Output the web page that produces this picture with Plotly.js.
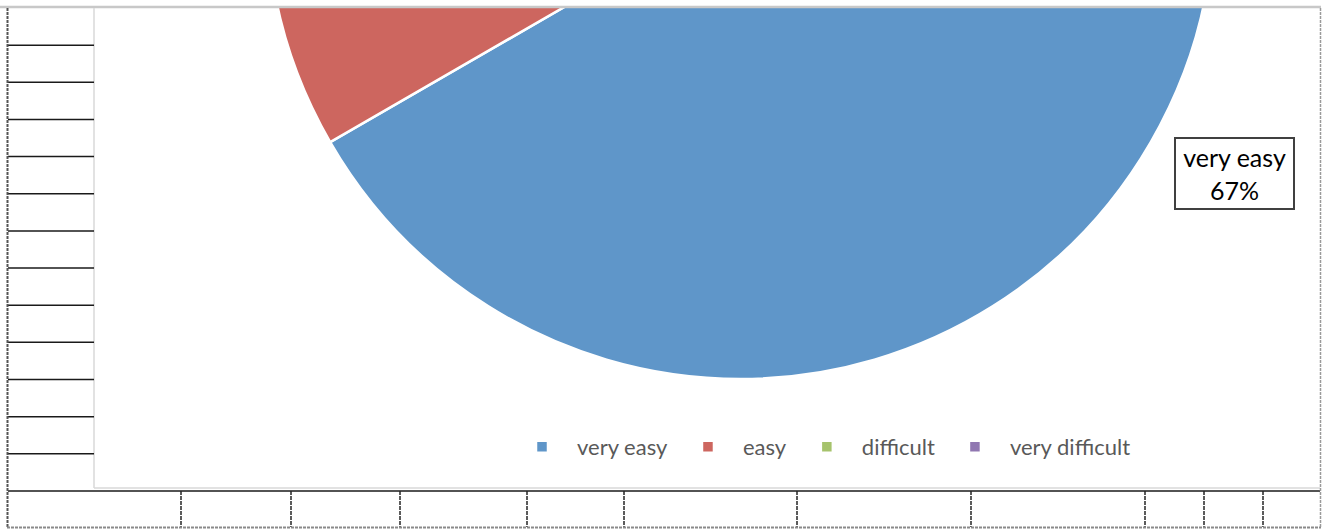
<!DOCTYPE html>
<html><head><meta charset="utf-8">
<script src="https://cdn.plot.ly/plotly-3.0.1.min.js"></script>
<style>
html,body{margin:0;padding:0;background:#fff;overflow:hidden;width:1328px;height:529px}
#wrap{position:absolute;left:0;top:0;width:1328px;height:529px;overflow:hidden}
#chart{position:absolute;left:0;top:-600px;width:1328px;height:1129px}
</style>
</head><body><div id="wrap"><div id="chart"></div></div>
<script>
// ---- data ----
const categories = ['very easy', 'easy', 'difficult', 'very difficult'];
const responses = [20, 10, 0, 0];
const sliceColors = ['#5F96C9', '#CD665F', '#A6C36C', '#9077B1'];

// ---- geometry helpers (visible window pixel -> paper) ----
const W = 1328, T = 600, H = 529 + T;
const X = px => px / W;
const Y = py => 1 - (py + T) / H;

const cx = 740.5, cy = -94.8, R = 473.8;

const total = responses.reduce((a, b) => a + b, 0);
const labelText = categories[0] + '<br>' + Math.round(100 * responses[0] / total) + '%';

const shapes = [];
function line(x0, y0, x1, y1, color, width, dash) {
  shapes.push({type: 'line', xref: 'paper', yref: 'paper', x0: X(x0), y0: Y(y0), x1: X(x1), y1: Y(y1),
    line: {color: color, width: width, dash: dash || 'solid'}, layer: 'above'});
}
// cover the pie above the chart top edge
shapes.push({type: 'rect', xref: 'paper', yref: 'paper', x0: 0, x1: 1, y0: Y(-T), y1: Y(6.5),
  fillcolor: '#ffffff', line: {width: 0}, layer: 'above'});
// top edge
line(0, 7, 1321, 7, '#c8c8c8', 2.5);
// chart borders
line(94, 8, 94, 488, '#d9d9d9', 1.5);
line(94, 488, 1320, 488, '#d9d9d9', 1.5);
// left column rows
for (let k = 1; k <= 12; k++) {
  const y = 8 + 37.15 * k;
  line(8, y, 94, y, '#1a1a1a', 1.5);
}
// bottom row
line(8, 491, 1320, 491, '#1a1a1a', 1.5);
[181, 291, 400, 527, 624, 797, 971, 1145, 1204, 1263].forEach(x => line(x, 491, x, 527, '#262626', 1.5, '4px,1px'));
// outer sheet borders
line(7.5, 8, 7.5, 528, '#555555', 2, '3px,1px');
line(7, 527.5, 1321, 527.5, '#8a8a8a', 2, '3px,1px');
line(1320.5, 8, 1320.5, 528, '#9a9a9a', 1.5, '3px,1px');

const data = [{
  type: 'pie',
  labels: categories,
  values: responses,
  sort: false,
  direction: 'clockwise',
  rotation: 0,
  textinfo: 'none',
  hoverinfo: 'label+percent',
  marker: {colors: sliceColors, line: {color: '#ffffff', width: 2.5}},
  domain: {x: [X(cx - R), X(cx + R)], y: [Y(cy + R), Y(cy - R)]},
  showlegend: true
}];

const layout = {
  width: W, height: H, autosize: false,
  margin: {l: 0, r: 0, t: 0, b: 0, pad: 0},
  paper_bgcolor: '#ffffff',
  font: {family: 'Lato, "Open Sans", sans-serif'},
  showlegend: true,
  legend: {
    orientation: 'h', x: X(507), xanchor: 'left', y: Y(447), yanchor: 'middle',
    font: {family: 'Lato, sans-serif', size: 22, color: '#595959'},
    bgcolor: 'rgba(0,0,0,0)', itemwidth: 60, traceorder: 'normal'
  },
  shapes: shapes,
  annotations: [{
    xref: 'paper', yref: 'paper', x: X(1234.5), y: Y(173), xanchor: 'center', yanchor: 'middle',
    text: labelText, showarrow: false, align: 'center',
    font: {family: 'Lato, sans-serif', size: 25, color: '#000000'},
    bgcolor: '#ffffff', bordercolor: '#404040', borderwidth: 2, borderpad: 1,
    width: 115, height: 67
  }]
};

Plotly.newPlot('chart', data, layout, {staticPlot: true, displayModeBar: false});
</script>
</body></html>
